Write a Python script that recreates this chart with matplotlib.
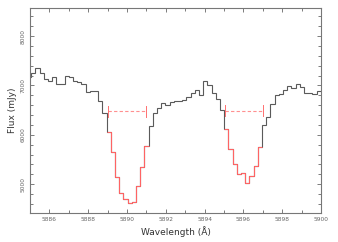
import numpy as np
import matplotlib
matplotlib.use("Agg")
import matplotlib.pyplot as plt
from matplotlib.ticker import MultipleLocator

# binned spectrum: bin edges start, bin width, flux per bin (mJy)
edge_start = 5884.84
bin_width = 0.2164
flux = [
    7170, 7250, 7345, 7260, 7125, 7088, 7175, 7021, 7021, 7189,
    7175, 7100, 7060, 7030, 6871, 6890, 6890, 6690, 6445,
    # first absorption line (red)
    6050, 5650, 5148, 4824, 4690, 4609, 4641, 4966, 5338, 5770,
    6176, 6440, 6547, 6635, 6601, 6668, 6682, 6689, 6700, 6760,
    6838, 6912, 6797, 7088, 7007, 6845, 6726, 6507,
    # second absorption line (red)
    6109, 5703, 5405, 5203, 5229, 5014, 5162, 5365, 5756,
    6196, 6364, 6620, 6804, 6818, 6905, 6986, 6939, 7021, 6960,
    6838, 6851, 6818, 6892, 6892,
]
red_ranges = [(19, 29), (47, 56)]  # bin index ranges shown in red

# width markers (dashed red bars)
bar_x0 = [5889.03, 5895.05]
bar_x1 = [5891.00, 5896.99]
bar_y = [6480, 6490]


def main():
    edges = edge_start + bin_width * np.arange(len(flux) + 1)
    vals = np.array(flux, dtype=float)

    fig = plt.figure(figsize=(3.38, 2.42), dpi=100)
    ax = fig.add_axes([0.0888, 0.121, 0.861, 0.846])

    ax.stairs(vals, edges, baseline=None, color="#5a5a5a", lw=0.8)
    for a, b in red_ranges:
        ax.stairs(vals[a:b], edges[a:b + 1], baseline=None,
                  color="#ff6464", lw=0.8)

    for x0, x1, y in zip(bar_x0, bar_x1, bar_y):
        ax.plot([x0, x1], [y, y], color="#ff9090", lw=0.8, ls=(0, (3, 2)))
        ax.plot([x0, x0], [y - 110, y + 110], color="#ff7070", lw=0.7)
        ax.plot([x1, x1], [y - 110, y + 110], color="#ff7070", lw=0.7)

    ax.set_xlim(5885, 5900)
    ax.set_ylim(4420, 8570)
    ax.xaxis.set_major_locator(MultipleLocator(2))
    ax.xaxis.set_minor_locator(MultipleLocator(1))
    ax.yaxis.set_major_locator(MultipleLocator(1000))
    ax.yaxis.set_minor_locator(MultipleLocator(200))
    ax.tick_params(which="both", direction="in", top=True, right=True,
                   color="#666666", width=0.6)
    ax.tick_params(which="major", length=3, labelsize=4.2,
                   labelcolor="#666666", pad=3)
    ax.tick_params(which="minor", length=2)
    for lbl in ax.get_yticklabels():
        lbl.set_rotation(90)
        lbl.set_va("center")
    for s in ax.spines.values():
        s.set_color("#777777")
        s.set_linewidth(0.8)

    ax.set_xlabel("Wavelength (Å)", fontsize=6.5, color="#333333", labelpad=3)
    ax.set_ylabel("Flux (mJy)", fontsize=6.5, color="#333333", labelpad=3)

    fig.savefig("out.png", dpi=100, facecolor="w")
    plt.close(fig)


if __name__ == '__main__':
    main()
